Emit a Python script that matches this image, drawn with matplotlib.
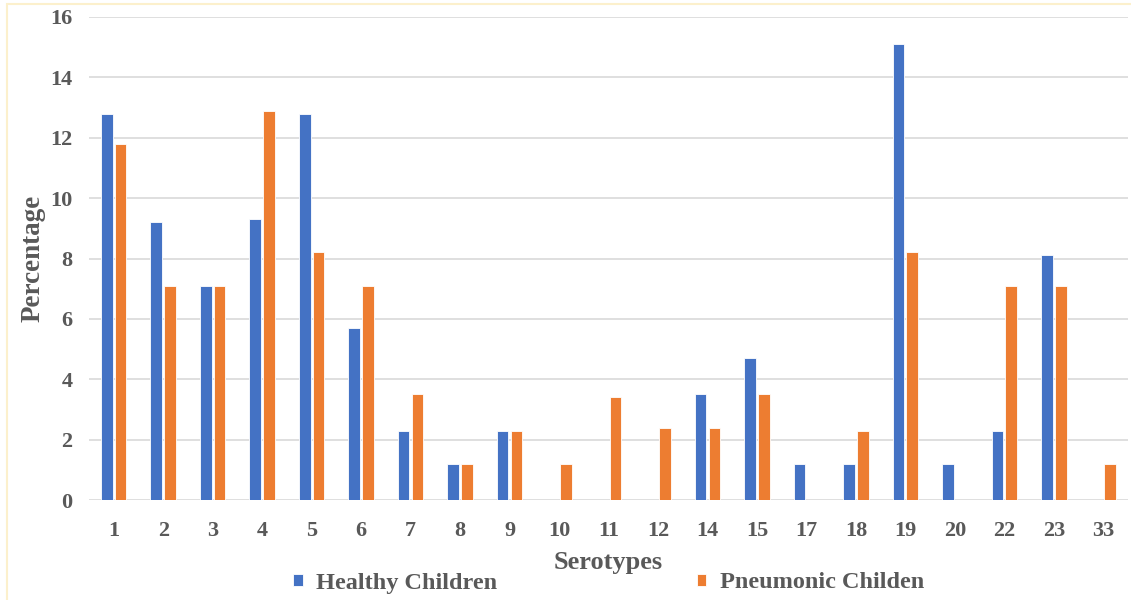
import numpy as np
import matplotlib.pyplot as plt
from matplotlib.patches import Rectangle

serotypes = ["1", "2", "3", "4", "5", "6", "7", "8", "9", "10", "11",
             "12", "14", "15", "17", "18", "19", "20", "22", "23", "33"]
healthy = [12.8, 9.2, 7.1, 9.3, 12.8, 5.7, 2.3, 1.2, 2.3, 0, 0,
           0, 3.5, 4.7, 1.2, 1.2, 15.1, 1.2, 2.3, 8.1, 0]
pneumonic = [11.8, 7.1, 7.1, 12.9, 8.2, 7.1, 3.5, 1.2, 2.3, 1.2, 3.4,
             2.4, 2.4, 3.5, 0, 2.3, 8.2, 0, 7.1, 7.1, 1.2]

plt.rcParams['font.family'] = ['Liberation Serif', 'DejaVu Serif']
plt.rcParams['font.weight'] = 'bold'
txt = '#595959'

fig = plt.figure(figsize=(11.31, 6), dpi=100)
ax = fig.add_axes([89/1131, 100/600, (1128-89)/1131, 483/600])

x = np.arange(len(serotypes))
w = 0.235
ax.bar(x - 0.14, healthy, w, color='#4472C4', edgecolor='white', linewidth=0.6,
       label='Healthy Children', zorder=3)
ax.bar(x + 0.14, pneumonic, w, color='#ED7D31', edgecolor='white', linewidth=0.6,
       label='Pneumonic Childen', zorder=3)

ax.set_xlim(-0.5, len(serotypes) - 0.5)
ax.set_ylim(0, 16)
ax.set_yticks(np.arange(0, 17, 2))
ax.set_xticks(x)
ax.set_xticklabels(serotypes)
ax.grid(axis='y', color='#D9D9D9', linewidth=1.2, zorder=0)
for s in ax.spines.values():
    s.set_visible(False)
ax.tick_params(length=0, labelsize=16, labelcolor=txt)
ax.tick_params(axis='y', pad=12)
ax.tick_params(axis='x', pad=15)
for lab in ax.get_xticklabels() + ax.get_yticklabels():
    lab.set_fontweight('bold')

ax.set_xlabel('Serotypes', fontsize=19, color=txt, fontweight='bold', labelpad=7)
ax.set_ylabel('Percentage', fontsize=19.5, color=txt, fontweight='bold', labelpad=3)

fig.legend(loc='center', bbox_to_anchor=(0.538, 1 - 583/600), ncol=2,
           frameon=False, handlelength=0.4, handleheight=0.4,
           handletextpad=0.55, columnspacing=8.2, labelcolor=txt,
           prop={'weight': 'bold', 'size': 17.5})

# thin pale frame around the chart area
fig.patches.append(Rectangle((7/1131, -0.05), 1.2, 1 - 4/600 + 0.05,
                             transform=fig.transFigure, fill=False,
                             edgecolor='#FCF0CC', linewidth=1.5))

fig.savefig('out.png', dpi=100)
